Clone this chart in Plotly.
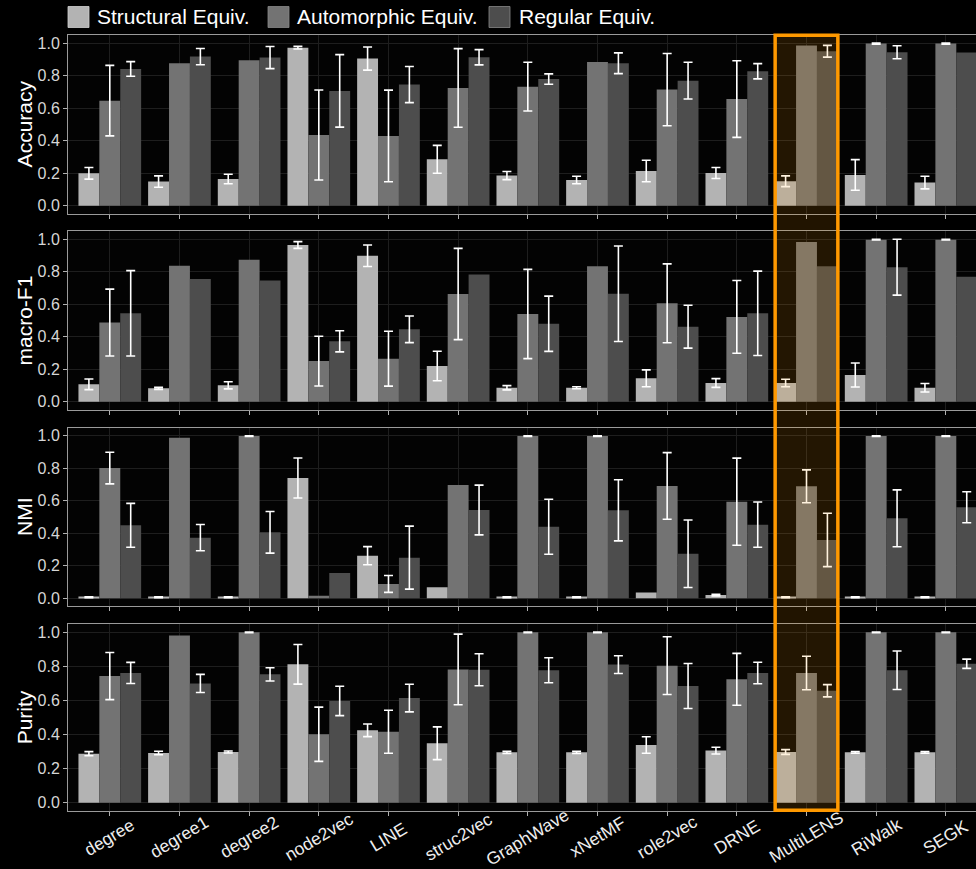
import plotly.graph_objects as go

# ---------------------------------------------------------------- data
methods = ["degree", "degree1", "degree2", "node2vec", "LINE", "struc2vec",
           "GraphWave", "xNetMF", "role2vec", "DRNE", "MultiLENS", "RiWalk", "SEGK"]
series_names = ["Structural Equiv.", "Automorphic Equiv.", "Regular Equiv."]
metrics = ["Accuracy", "macro-F1", "NMI", "Purity"]

# mean values and error half-widths (None = no error bar)
acc_struct = [0.199, 0.148, 0.164, 0.972, 0.905, 0.285, 0.185, 0.158, 0.213, 0.201, 0.150, 0.189, 0.142]
acc_struct_err = [0.036, 0.035, 0.029, 0.008, 0.071, 0.086, 0.025, 0.023, 0.066, 0.034, 0.033, 0.094, 0.039]
acc_auto = [0.646, 0.876, 0.894, 0.435, 0.429, 0.724, 0.732, 0.884, 0.714, 0.656, 0.985, 0.997, 0.997]
acc_auto_err = [0.217, None, None, 0.277, 0.282, 0.242, 0.150, None, 0.222, 0.236, None, 0.003, 0.003]
acc_reg = [0.841, 0.917, 0.911, 0.706, 0.745, 0.913, 0.779, 0.876, 0.769, 0.827, 0.950, 0.944, 0.942]
acc_reg_err = [0.045, 0.050, 0.068, 0.223, 0.111, 0.047, 0.032, 0.064, 0.113, 0.047, 0.036, 0.040, None]

f1_struct = [0.107, 0.082, 0.101, 0.965, 0.899, 0.220, 0.086, 0.086, 0.144, 0.115, 0.115, 0.164, 0.086]
f1_struct_err = [0.033, 0.006, 0.022, 0.021, 0.066, 0.091, 0.013, 0.006, 0.052, 0.027, 0.023, 0.074, 0.026]
f1_auto = [0.487, 0.837, 0.874, 0.250, 0.265, 0.663, 0.540, 0.834, 0.606, 0.522, 0.983, 0.998, 0.998]
f1_auto_err = [0.206, None, None, 0.153, 0.169, 0.281, 0.275, None, 0.243, 0.224, None, 0.002, 0.002]
f1_reg = [0.544, 0.755, 0.747, 0.372, 0.446, 0.784, 0.480, 0.665, 0.462, 0.544, 0.834, 0.828, 0.770]
f1_reg_err = [0.263, None, None, 0.065, 0.082, None, 0.170, 0.294, 0.132, 0.260, None, 0.172, None]

nmi_struct = [0.006, 0.006, 0.006, 0.740, 0.262, 0.068, 0.006, 0.006, 0.035, 0.020, 0.006, 0.006, 0.006]
nmi_struct_err = [0.003, 0.003, 0.003, 0.123, 0.056, None, 0.003, 0.003, None, 0.005, 0.003, 0.003, 0.003]
nmi_auto = [0.801, 0.988, 0.998, 0.016, 0.088, 0.697, 0.998, 0.998, 0.691, 0.594, 0.689, 0.998, 0.998]
nmi_auto_err = [0.097, None, 0.002, None, 0.052, None, 0.002, 0.002, 0.205, 0.268, 0.101, 0.002, 0.002]
nmi_reg = [0.449, 0.373, 0.406, 0.156, 0.250, 0.543, 0.440, 0.541, 0.274, 0.453, 0.359, 0.492, 0.560]
nmi_reg_err = [0.135, 0.081, 0.128, None, 0.194, 0.153, 0.169, 0.188, 0.208, 0.139, 0.164, 0.175, 0.095]

pur_struct = [0.287, 0.291, 0.297, 0.811, 0.424, 0.348, 0.295, 0.295, 0.338, 0.305, 0.297, 0.295, 0.295]
pur_struct_err = [0.012, 0.010, 0.006, 0.116, 0.037, 0.096, 0.006, 0.006, 0.048, 0.020, 0.014, 0.005, 0.005]
pur_auto = [0.742, 0.980, 0.998, 0.401, 0.416, 0.781, 0.998, 0.998, 0.803, 0.723, 0.760, 0.998, 0.998]
pur_auto_err = [0.138, None, 0.002, 0.159, 0.126, 0.207, 0.002, 0.002, 0.169, 0.152, 0.098, 0.002, 0.002]
pur_reg = [0.760, 0.699, 0.752, 0.596, 0.613, 0.779, 0.776, 0.809, 0.684, 0.760, 0.656, 0.776, 0.814]
pur_reg_err = [0.062, 0.053, 0.039, 0.086, 0.081, 0.094, 0.073, 0.052, 0.132, 0.063, 0.036, 0.113, 0.027]

y_ticks = [0.0, 0.2, 0.4, 0.6, 0.8, 1.0]
highlight = "MultiLENS"

panel_values = [
    [(acc_struct, acc_struct_err), (acc_auto, acc_auto_err), (acc_reg, acc_reg_err)],
    [(f1_struct, f1_struct_err), (f1_auto, f1_auto_err), (f1_reg, f1_reg_err)],
    [(nmi_struct, nmi_struct_err), (nmi_auto, nmi_auto_err), (nmi_reg, nmi_reg_err)],
    [(pur_struct, pur_struct_err), (pur_auto, pur_auto_err), (pur_reg, pur_reg_err)],
]

# ---------------------------------------------------------------- style
W, H = 976, 869
LEFT = 68
FONT = "Liberation Sans, Arial, sans-serif"
colors = ["#b3b3b3", "#737373", "#4d4d4d"]
grid = "#1e1e1e"
border = "#9a9a9a"
# panel (top, bottom) in pixels
panels_px = [(35.0, 213.75), (231.2, 409.8), (427.6, 606.4), (623.5, 811.2)]
x_range = [-0.6, (W - LEFT) / 69.67 - 0.6]


def px_x(p):
    return (p - LEFT) / (W - LEFT)


def px_y(p):
    return 1 - p / H


fig = go.Figure()
layout = dict(
    width=W, height=H,
    margin=dict(l=LEFT, r=0, t=0, b=0),
    paper_bgcolor="#000000", plot_bgcolor="#030303",
    barmode="group", bargap=0.1, bargroupgap=0.0,
    showlegend=False,
    font=dict(family=FONT, color="#ffffff"),
)

annotations = []
shapes = []

for k, metric in enumerate(metrics):
    sfx = "" if k == 0 else str(k + 1)
    xa, ya = "x" + sfx, "y" + sfx
    top, bot = panels_px[k]
    for s, (vals, errs) in enumerate(panel_values[k]):
        fig.add_trace(go.Bar(
            x=methods, y=vals, name=series_names[s], offsetgroup=str(s),
            marker=dict(color=colors[s], line=dict(width=0)),
            xaxis=xa, yaxis=ya, hoverinfo="skip",
        ))
    # error bars on transparent bars sharing each series' offset group
    for s, (vals, errs) in enumerate(panel_values[k]):
        idx = [i for i, e in enumerate(errs) if e is not None]
        fig.add_trace(go.Bar(
            x=[methods[i] for i in idx], y=[vals[i] for i in idx],
            offsetgroup=str(s),
            marker=dict(color="rgba(0,0,0,0)", line=dict(width=0)),
            error_y=dict(type="data", array=[errs[i] for i in idx],
                         color="#ffffff", thickness=1.6, width=4.5),
            xaxis=xa, yaxis=ya, hoverinfo="skip",
        ))
    layout["xaxis" + sfx] = dict(
        domain=[0, 1], anchor=ya, type="category",
        categoryorder="array", categoryarray=methods, range=x_range,
        showgrid=True, gridcolor=grid, gridwidth=1,
        showline=True, mirror=True, linecolor=border, linewidth=1,
        ticks="outside", ticklen=4, tickcolor="#b0b0b0",
        showticklabels=False, fixedrange=True,
    )
    layout["yaxis" + sfx] = dict(
        domain=[px_y(bot), px_y(top)], anchor=xa, range=[-0.05, 1.05],
        tickvals=y_ticks, tickformat=".1f",
        tickfont=dict(size=16, color="#d6d6d6", family=FONT),
        showgrid=True, gridcolor=grid, gridwidth=1, zeroline=False,
        showline=True, linecolor=border, linewidth=1,
        ticks="outside", ticklen=4, tickcolor="#b0b0b0",
    )
    annotations.append(dict(
        text=metric, xref="paper", yref="paper",
        x=px_x(24), y=px_y((top + bot) / 2), textangle=-90,
        showarrow=False, xanchor="center", yanchor="middle",
        font=dict(size=21, color="#ffffff", family=FONT),
    ))

# rotated method labels under the bottom panel
for m in methods:
    annotations.append(dict(
        text=m, xref="x4", yref="paper", x=m, y=px_y(837),
        textangle=-31, showarrow=False, xanchor="center", yanchor="middle",
        font=dict(size=17.5, color="#eeeeee", family=FONT),
    ))

# legend drawn at the top
legend_sq = [68, 268, 489]
legend_tx = [95, 295, 517]
for s, name in enumerate(series_names):
    shapes.append(dict(
        type="rect", xref="paper", yref="paper",
        x0=px_x(legend_sq[s]), x1=px_x(legend_sq[s] + 21),
        y0=px_y(27.5), y1=px_y(6.5),
        fillcolor=colors[s], line=dict(width=0.8, color="#d0d0d0" if s == 0 else "#888888"),
    ))
    annotations.append(dict(
        text=name, xref="paper", yref="paper",
        x=px_x(legend_tx[s]), y=px_y(17), showarrow=False,
        xanchor="left", yanchor="middle",
        font=dict(size=21, color="#ffffff", family=FONT),
    ))

# highlight frame around one method, spanning all panels
hi = methods.index(highlight)
shapes.append(dict(
    type="rect", xref="x", yref="paper", layer="above",
    x0=hi - 0.45, x1=hi + 0.45, y0=px_y(810.3), y1=px_y(35.3),
    fillcolor="rgba(255,153,0,0.13)", line=dict(color="#ff9900", width=3.5),
))

layout["annotations"] = annotations
layout["shapes"] = shapes
fig.update_layout(**layout)
fig.write_html("out.html")
